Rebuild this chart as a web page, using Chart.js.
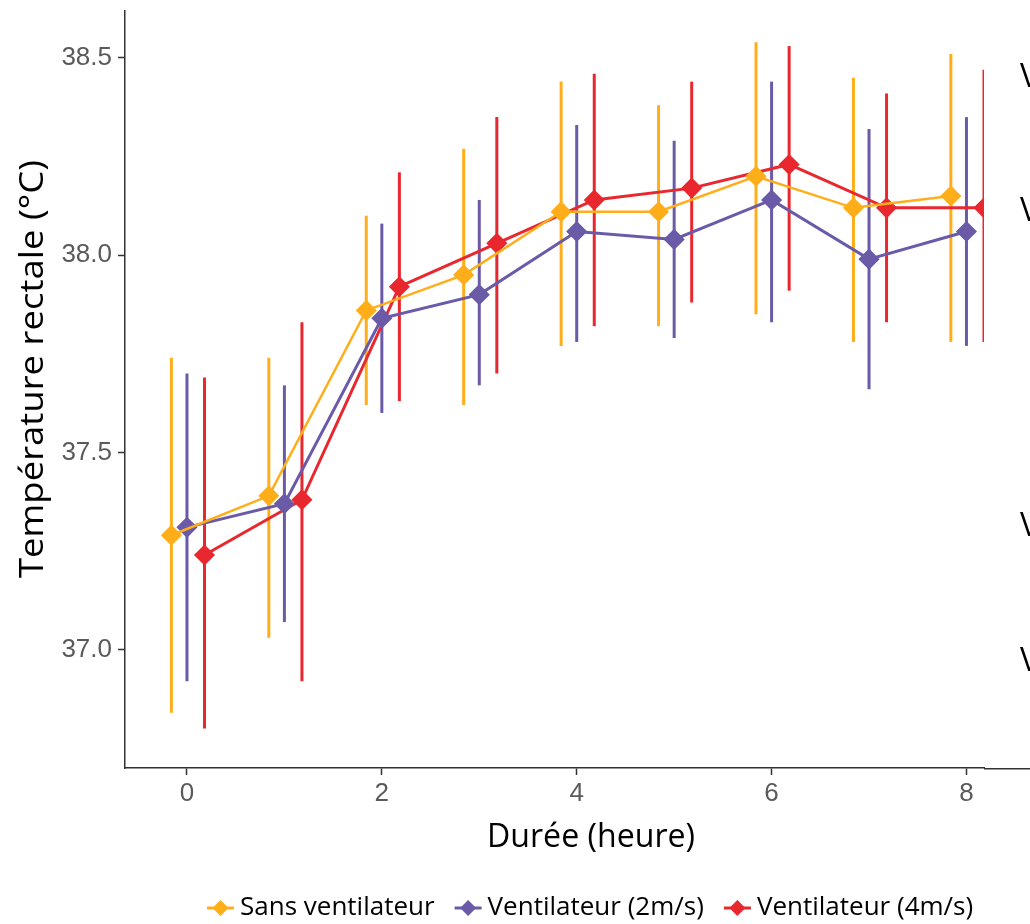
<!DOCTYPE html>
<html>
<head>
<meta charset="utf-8">
<script src="https://cdn.jsdelivr.net/npm/chart.js@4"></script>
<style>
  html, body { margin: 0; padding: 0; background: #fff; }
  #wrap { width: 1030px; height: 924px; position: relative; }
</style>
</head>
<body>
<div id="wrap"><canvas id="tempChart"></canvas></div>
<script>
// Values
const hours = [0, 1, 2, 3, 4, 5, 6, 7, 8];
const seriesNames = ['Sans ventilateur', 'Ventilateur (2m/s)', 'Ventilateur (4m/s)'];
const dodge = [-0.16, 0, 0.18];

const sansMean = [37.29, 37.39, 37.86, 37.95, 38.11, 38.11, 38.20, 38.12, 38.15];
const sansLow  = [36.84, 37.03, 37.62, 37.62, 37.77, 37.82, 37.85, 37.78, 37.78];
const sansHigh = [37.74, 37.74, 38.10, 38.27, 38.44, 38.38, 38.54, 38.45, 38.51];

const v2Mean = [37.31, 37.37, 37.84, 37.90, 38.06, 38.04, 38.14, 37.99, 38.06];
const v2Low  = [36.92, 37.07, 37.60, 37.67, 37.78, 37.79, 37.83, 37.66, 37.77];
const v2High = [37.70, 37.67, 38.08, 38.14, 38.33, 38.29, 38.44, 38.32, 38.35];

const v4Mean = [37.24, 37.38, 37.92, 38.03, 38.14, 38.17, 38.23, 38.12, 38.12];
const v4Low  = [36.80, 36.92, 37.63, 37.70, 37.82, 37.88, 37.91, 37.83, 37.78];
const v4High = [37.69, 37.83, 38.21, 38.35, 38.46, 38.44, 38.53, 38.41, 38.47];

const xTicks = [0, 2, 4, 6, 8];
const yTicks = [37.0, 37.5, 38.0, 38.5];
const xTitle = 'Durée (heure)';
const yTitle = 'Température rectale (°C)';
const sideLabels = ['V', 'V', 'V', 'V'];
const sideLabelY = [38.45, 38.11, 37.31, 36.97];

const colors = ['#FFAE1A', '#6A5AA8', '#E8282E'];
const means = [sansMean, v2Mean, v4Mean];
const lows = [sansLow, v2Low, v4Low];
const highs = [sansHigh, v2High, v4High];

const titleFont = "'Open Sans', 'Noto Sans', sans-serif";
const tickFont = "'Liberation Sans Narrow', 'Liberation Sans', sans-serif";

const datasets = seriesNames.map((name, i) => ({
    label: name,
    data: hours.map((h, j) => ({ x: h + dodge[i], y: means[i][j], low: lows[i][j], high: highs[i][j] })),
    borderColor: colors[i],
    backgroundColor: colors[i],
    borderWidth: i === 0 ? 2.5 : 3,
    pointStyle: 'rectRot',
    pointRadius: 9.5,
    pointHoverRadius: 9.5,
    pointBorderWidth: 1.5,
    pointBorderColor: colors[i],
    tension: 0,
    clip: 0
}));

// error bars drawn under the lines
const errorBars = {
    id: 'errorBars',
    beforeDatasetsDraw(chart) {
        const { ctx, chartArea, scales: { x, y } } = chart;
        ctx.save();
        ctx.beginPath();
        ctx.rect(chartArea.left, chartArea.top, chartArea.right - chartArea.left, chartArea.bottom - chartArea.top);
        ctx.clip();
        chart.data.datasets.forEach(ds => {
            ctx.strokeStyle = ds.borderColor;
            ctx.lineWidth = 3;
            ds.data.forEach(p => {
                const px = x.getPixelForValue(p.x);
                ctx.beginPath();
                ctx.moveTo(px, y.getPixelForValue(p.low));
                ctx.lineTo(px, y.getPixelForValue(p.high));
                ctx.stroke();
            });
        });
        ctx.restore();
    }
};

function stretchedText(ctx, text, x, y, width) {
    const w = ctx.measureText(text).width;
    ctx.save();
    ctx.translate(x, y);
    ctx.scale(width / w, 1);
    ctx.fillText(text, 0, 0);
    ctx.restore();
}

// axis titles, custom legend, and cut-off side text
const decorations = {
    id: 'decorations',
    afterDraw(chart) {
        const { ctx, chartArea, scales: { y } } = chart;
        ctx.save();
        // x axis line runs on past the panel
        ctx.strokeStyle = '#333';
        ctx.lineWidth = 1.5;
        ctx.beginPath();
        ctx.moveTo(chartArea.right, chartArea.bottom + 0.75);
        ctx.lineTo(chart.width, chartArea.bottom + 0.75);
        ctx.stroke();

        ctx.fillStyle = '#000';
        ctx.textAlign = 'center';
        ctx.textBaseline = 'middle';
        ctx.font = '32px ' + titleFont;
        stretchedText(ctx, xTitle, 591, 838, 208);

        ctx.save();
        ctx.translate(34, 369);
        ctx.rotate(-Math.PI / 2);
        ctx.font = '33px ' + titleFont;
        stretchedText(ctx, yTitle, 0, 0, 418);
        ctx.restore();

        // legend
        ctx.font = '26px ' + titleFont;
        ctx.textAlign = 'left';
        let lx = 207;
        const ly = 908;
        seriesNames.forEach((name, i) => {
            ctx.strokeStyle = colors[i];
            ctx.fillStyle = colors[i];
            ctx.lineWidth = 3;
            ctx.beginPath();
            ctx.moveTo(lx, ly);
            ctx.lineTo(lx + 27, ly);
            ctx.stroke();
            const cx = lx + 13.5;
            ctx.beginPath();
            ctx.moveTo(cx, ly - 8);
            ctx.lineTo(cx + 8, ly);
            ctx.lineTo(cx, ly + 8);
            ctx.lineTo(cx - 8, ly);
            ctx.closePath();
            ctx.fill();
            ctx.fillStyle = '#000';
            ctx.fillText(name, lx + 33, ly);
            lx += 33 + ctx.measureText(name).width + 20;
        });

        // fragments of text cut by the right edge
        ctx.font = '32px ' + titleFont;
        sideLabels.forEach((t, i) => {
            ctx.fillText(t, 1020, y.getPixelForValue(sideLabelY[i]));
        });
        ctx.restore();
    }
};

new Chart(document.getElementById('tempChart'), {
    type: 'line',
    data: { datasets },
    options: {
        responsive: true,
        maintainAspectRatio: false,
        animation: false,
        layout: { padding: { top: 0, right: 46, left: 0, bottom: 0 } },
        plugins: {
            legend: { display: false },
            tooltip: { enabled: false }
        },
        scales: {
            x: {
                type: 'linear',
                min: -0.636,
                max: 8.18,
                afterBuildTicks: s => { s.ticks = xTicks.map(v => ({ value: v })); },
                afterFit: s => { s.height = 156; s.paddingLeft = 0; s.paddingRight = 0; },
                border: { color: '#333', width: 1.5 },
                grid: { drawOnChartArea: false, tickLength: 7, color: '#333', tickWidth: 1.5 },
                ticks: {
                    color: '#5a5a5a',
                    font: { family: tickFont, size: 26 },
                    padding: 3,
                    maxRotation: 0
                }
            },
            y: {
                min: 36.70,
                max: 38.619,
                afterBuildTicks: s => { s.ticks = yTicks.map(v => ({ value: v })); },
                afterFit: s => { s.width = 125; s.paddingTop = 0; s.paddingBottom = 0; },
                border: { color: '#333', width: 1.5 },
                grid: { drawOnChartArea: false, tickLength: 7, color: '#333', tickWidth: 1.5 },
                ticks: {
                    color: '#5a5a5a',
                    font: { family: tickFont, size: 26 },
                    padding: 6,
                    callback: v => v.toFixed(1)
                }
            }
        }
    },
    plugins: [errorBars, decorations]
});
</script>
</body>
</html>
